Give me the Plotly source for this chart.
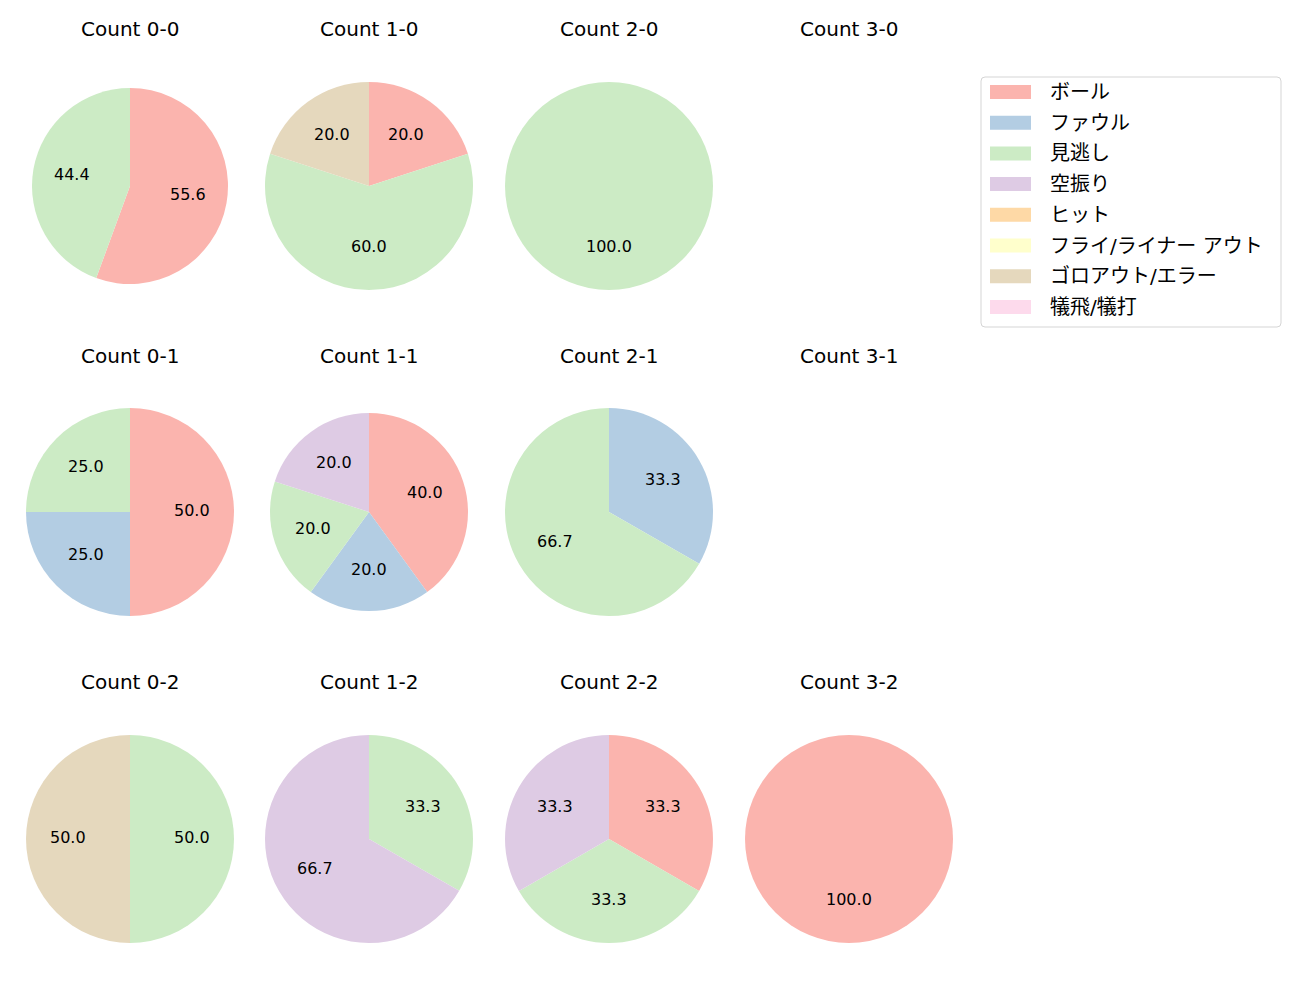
import math
import plotly.graph_objects as go

categories = ["ボール", "ファウル", "見逃し", "空振り", "ヒット", "フライ/ライナー アウト", "ゴロアウト/エラー", "犠飛/犠打"]
colors = ["#fbb4ae", "#b3cde3", "#ccebc5", "#decbe4", "#fed9a6", "#ffffcc", "#e5d8bd", "#fddaec"]

# percentages per count situation, order follows categories
count_00 = [55.6, 0, 44.4, 0, 0, 0, 0, 0]
count_10 = [20.0, 0, 60.0, 0, 0, 0, 20.0, 0]
count_20 = [0, 0, 100.0, 0, 0, 0, 0, 0]
count_30 = None
count_01 = [50.0, 25.0, 25.0, 0, 0, 0, 0, 0]
count_11 = [40.0, 20.0, 20.0, 20.0, 0, 0, 0, 0]
count_21 = [0, 33.3, 66.7, 0, 0, 0, 0, 0]
count_31 = None
count_02 = [0, 0, 50.0, 0, 0, 0, 50.0, 0]
count_12 = [0, 0, 33.3, 66.7, 0, 0, 0, 0]
count_22 = [33.3, 0, 33.3, 33.3, 0, 0, 0, 0]
count_32 = [100.0, 0, 0, 0, 0, 0, 0, 0]

titles = [["Count 0-0", "Count 1-0", "Count 2-0", "Count 3-0"],
          ["Count 0-1", "Count 1-1", "Count 2-1", "Count 3-1"],
          ["Count 0-2", "Count 1-2", "Count 2-2", "Count 3-2"]]
grid = [[count_00, count_10, count_20, count_30],
        [count_01, count_11, count_21, count_31],
        [count_02, count_12, count_22, count_32]]

# layout (pixels)
W, H = 1300, 1000
col_cx = [130, 369, 609, 849]
row_cy = [186, 512, 839]
title_y = [29, 356, 682]
radius = [[98, 104, 104, 104], [104, 99, 104, 104], [104, 104, 104, 104]]
FONT = "DejaVu Sans, Noto Sans CJK JP"


def px(x):
    return x / W


def py(y):
    return 1 - y / H


fig = go.Figure()
annotations = []
shapes = []
for r in range(3):
    for c in range(4):
        cx, cy = col_cx[c], row_cy[r]
        annotations.append(dict(x=px(cx), y=py(title_y[r]), xref="paper", yref="paper",
                                text=titles[r][c], showarrow=False,
                                font=dict(size=20, color="black", family=FONT),
                                xanchor="center", yanchor="middle"))
        vals = grid[r][c]
        if vals is None:
            continue
        rad = radius[r][c]
        fig.add_trace(go.Pie(
            labels=categories, values=vals, sort=False, direction="clockwise", rotation=0,
            marker=dict(colors=colors, line=dict(width=0)),
            textinfo="none", hoverinfo="label+percent",
            domain=dict(x=[px(cx - rad), px(cx + rad)], y=[py(cy + rad), py(cy - rad)]),
            showlegend=False,
        ))
        total = sum(vals)
        cum = 0.0
        for v in vals:
            if v > 0:
                mid = 90 - 360 * (cum + v / 2) / total
                tx = cx + 0.6 * rad * math.cos(math.radians(mid))
                ty = cy - 0.6 * rad * math.sin(math.radians(mid)) - 1.5
                annotations.append(dict(x=px(tx), y=py(ty), xref="paper", yref="paper",
                                        text=f"{v:.1f}", showarrow=False,
                                        font=dict(size=16, color="black", family=FONT),
                                        xanchor="center", yanchor="middle"))
            cum += v

# legend box (matplotlib style)
lx0, lx1, ly0, ly1, rr = 981, 1281, 77, 327, 4
path = (f"M{px(lx0 + rr)},{py(ly0)} L{px(lx1 - rr)},{py(ly0)} Q{px(lx1)},{py(ly0)} {px(lx1)},{py(ly0 + rr)} "
        f"L{px(lx1)},{py(ly1 - rr)} Q{px(lx1)},{py(ly1)} {px(lx1 - rr)},{py(ly1)} "
        f"L{px(lx0 + rr)},{py(ly1)} Q{px(lx0)},{py(ly1)} {px(lx0)},{py(ly1 - rr)} "
        f"L{px(lx0)},{py(ly0 + rr)} Q{px(lx0)},{py(ly0)} {px(lx0 + rr)},{py(ly0)} Z")
shapes.append(dict(type="path", xref="paper", yref="paper", path=path,
                   line=dict(color="#d5d5d5", width=1), fillcolor="white"))
item_y0, item_step = 92, 30.7
for i, (lab, col) in enumerate(zip(categories, colors)):
    yc = item_y0 + i * item_step
    shapes.append(dict(type="rect", xref="paper", yref="paper",
                       x0=px(990), x1=px(1031), y0=py(yc + 7), y1=py(yc - 7),
                       line=dict(width=0), fillcolor=col))
    annotations.append(dict(x=px(1048), y=py(yc), xref="paper", yref="paper", text=lab,
                            showarrow=False, xanchor="left", yanchor="middle",
                            font=dict(size=20, color="black", family=FONT)))

fig.update_layout(
    width=W, height=H, margin=dict(l=0, r=0, t=0, b=0),
    paper_bgcolor="white", plot_bgcolor="white",
    font=dict(family=FONT, color="black"),
    annotations=annotations, shapes=shapes, showlegend=False,
)
fig.write_html("out.html")
